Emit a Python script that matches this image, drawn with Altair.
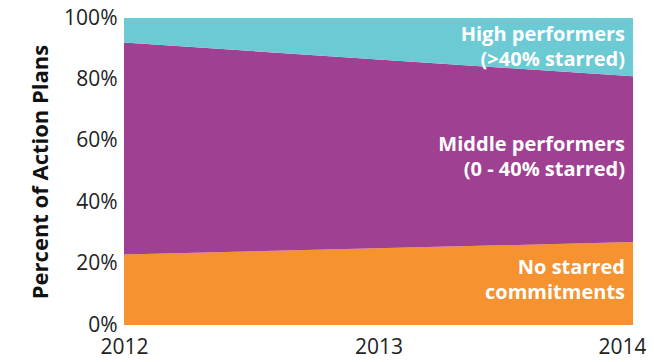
import altair as alt
import pandas as pd

years = [2012, 2014]
no_starred = [23, 27]
middle = [69, 54]
high = [8, 19]
x_ticks = [2012, 2013, 2014]
y_ticks = [0, 20, 40, 60, 80, 100]

categories = ["No starred commitments", "Middle performers", "High performers"]
colors = ["#F69230", "#A04092", "#6BCAD4"]

rows = []
for i, y in enumerate(years):
    for k, (cat, vals) in enumerate(zip(categories, [no_starred, middle, high])):
        rows.append({"year": y, "category": cat, "value": vals[i], "order": k})
df = pd.DataFrame(rows)

label_text = [["High performers", "(>40% starred)"],
              ["Middle performers", "(0 - 40% starred)"],
              ["No starred", "commitments"]]
label_y = [94.5, 58.5, 18.5]
labels = pd.DataFrame({"year": [2014] * 3, "y": label_y, "text": label_text})

FONT = "Open Sans"

x_scale = alt.Scale(domain=[2012, 2014], nice=False, zero=False)
y_scale = alt.Scale(domain=[0, 100], nice=False)
x_axis = alt.Axis(values=x_ticks, labelExpr="format(datum.value, 'd')", title=None,
                  domain=False, ticks=False, grid=False, labelOverlap=False,
                  labelFontSize=21, labelFont=FONT, labelColor="#222222",
                  labelPadding=11, labelFlush=False, labelBound=False,
                  labelAlign={"condition": {"test": "datum.value == 2014", "value": "right"},
                              "value": "center"},
                  labelOffset={"condition": {"test": "datum.value == 2014", "value": 13},
                               "value": 0})
y_axis = alt.Axis(values=y_ticks, labelExpr="datum.value + '%'",
                  title="Percent of Action Plans", titleFont=FONT,
                  titleFontSize=22, titleFontWeight="bold", titleColor="#111111",
                  titlePadding=11, domain=False, ticks=False, grid=False,
                  labelFontSize=21, labelFont=FONT, labelColor="#222222",
                  labelPadding=7)

area = alt.Chart(df).mark_area(opacity=1).encode(
    x=alt.X("year:Q", scale=x_scale, axis=x_axis),
    y=alt.Y("value:Q", stack="zero", scale=y_scale, axis=y_axis,
            title="Percent of Action Plans"),
    color=alt.Color("category:N", scale=alt.Scale(domain=categories, range=colors), legend=None),
    order=alt.Order("order:Q"),
)

text = alt.Chart(labels).mark_text(
    align="right", baseline="middle", color="white", font=FONT, fontWeight="bold",
    fontSize=20, lineHeight=25, dx=-8
).encode(
    x=alt.X("year:Q", scale=x_scale, axis=x_axis),
    y=alt.Y("y:Q", scale=y_scale, axis=y_axis, title="Percent of Action Plans"),
    text="text",
)

chart = (area + text).properties(
    width=509, height=307,
    autosize=alt.AutoSizeParams(type="none"),
    padding={"left": 116, "top": 10, "right": 13, "bottom": 44},
).configure_view(strokeWidth=0)

chart.save("out.html", embed_options={"renderer": "svg", "actions": False})
